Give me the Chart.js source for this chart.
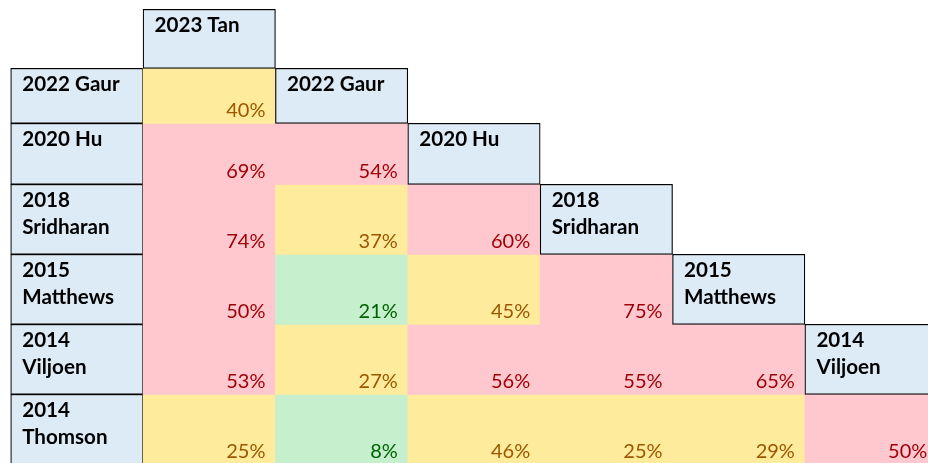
<!DOCTYPE html>
<html>
<head>
<meta charset="utf-8">
<script src="https://cdn.jsdelivr.net/npm/chart.js@4.4.1/dist/chart.umd.min.js"></script>
<style>
    html, body { margin: 0; padding: 0; background: #ffffff; }
    canvas { display: block; }
</style>
</head>
<body>
<canvas id="overlapCanvas" width="928" height="463"></canvas>
<script>
// Studies, in the order of the matrix (row labels and diagonal headers)
const studyLabels = [
    ['2023 Tan'],
    ['2022 Gaur'],
    ['2020 Hu'],
    ['2018', 'Sridharan'],
    ['2015', 'Matthews'],
    ['2014', 'Viljoen'],
    ['2014', 'Thomson']
];

// Pairwise overlap (%) of each study with the newer studies to its left
const gaurValues = [40];
const huValues = [69, 54];
const sridharanValues = [74, 37, 60];
const matthewsValues = [50, 21, 45, 75];
const viljoenValues = [53, 27, 56, 55, 65];
const thomsonValues = [25, 8, 46, 25, 29, 50];

const rowValues = [[], gaurValues, huValues, sridharanValues, matthewsValues, viljoenValues, thomsonValues];

// Band limits for the conditional colours
const lowLimit = 25;
const highLimit = 50;

// Layout (row heights in px, the grid is 1 unit = 1px vertically)
const rowHeights = [59, 55, 61, 70, 70, 70, 70];
const colors = {
    header: '#DDEBF7',
    border: '#000000',
    good: { fill: '#C6EFCE', text: '#006100' },
    mid: { fill: '#FFEB9C', text: '#9C5700' },
    bad: { fill: '#FFC7CE', text: '#9C0006' }
};
const fontFamily = 'Lato, "Open Sans", sans-serif';

function band(v) {
    if (v < lowLimit) return colors.good;
    if (v < highLimit) return colors.mid;
    return colors.bad;
}

// Build one floating-bar dataset per row
const rowEdges = [0];
rowHeights.forEach(h => rowEdges.push(rowEdges[rowEdges.length - 1] + h));

const datasets = studyLabels.map((label, r) => {
    const span = [rowEdges[r], rowEdges[r + 1]];
    const data = [];
    if (r > 0) {
        data.push({ x: 0.5, y: span, kind: 'label', text: label });
    }
    rowValues[r].forEach((v, c) => {
        data.push({ x: c + 1.5, y: span, kind: 'value', v: v });
    });
    if (r < studyLabels.length - 1) {
        data.push({ x: r + 1.5, y: span, kind: 'head', text: label });
    }
    return {
        label: label.join(' '),
        data: data,
        grouped: false,
        barPercentage: 1,
        categoryPercentage: 1,
        borderSkipped: false,
        clip: false,
        backgroundColor: ctx => ctx.raw && ctx.raw.kind === 'value' ? band(ctx.raw.v).fill : colors.header,
        borderColor: colors.border,
        borderWidth: ctx => ctx.raw && ctx.raw.kind !== 'value' ? 1.2 : 0
    };
});

// Draw the cell texts on top of the bars
const cellTextPlugin = {
    id: 'cellText',
    afterDatasetsDraw(chart) {
        const ctx = chart.ctx;
        ctx.save();
        chart.data.datasets.forEach((ds, i) => {
            const meta = chart.getDatasetMeta(i);
            meta.data.forEach((bar, j) => {
                const cell = ds.data[j];
                const p = bar.getProps(['x', 'y', 'base', 'width'], true);
                const left = p.x - p.width / 2;
                const right = p.x + p.width / 2;
                const top = Math.min(p.y, p.base);
                const bottom = Math.max(p.y, p.base);
                if (cell.kind === 'value') {
                    ctx.font = '20px ' + fontFamily;
                    ctx.fillStyle = band(cell.v).text;
                    ctx.textAlign = 'right';
                    ctx.textBaseline = 'alphabetic';
                    ctx.fillText(cell.v + '%', right - 10, bottom - 6);
                } else {
                    ctx.font = 'bold 20.6px ' + fontFamily;
                    ctx.fillStyle = '#000000';
                    ctx.textAlign = 'left';
                    ctx.textBaseline = 'alphabetic';
                    cell.text.forEach((line, k) => {
                        ctx.fillText(line, left + 11.5, top + 22.5 + k * 27.3);
                    });
                }
            });
        });
        ctx.restore();
    }
};

new Chart(document.getElementById('overlapCanvas'), {
    type: 'bar',
    data: { datasets: datasets },
    options: {
        responsive: false,
        animation: false,
        devicePixelRatio: 1,
        layout: { padding: { left: 10.7, top: 9.3, right: 0, bottom: 0 } },
        scales: {
            x: {
                type: 'linear', min: 0, max: 6.93, display: false, offset: false,
                ticks: { stepSize: 1, includeBounds: false }
            },
            y: { type: 'linear', min: 0, max: 453.7, reverse: true, display: false }
        },
        plugins: {
            legend: { display: false },
            tooltip: { enabled: false }
        }
    },
    plugins: [cellTextPlugin]
});
</script>
</body>
</html>
